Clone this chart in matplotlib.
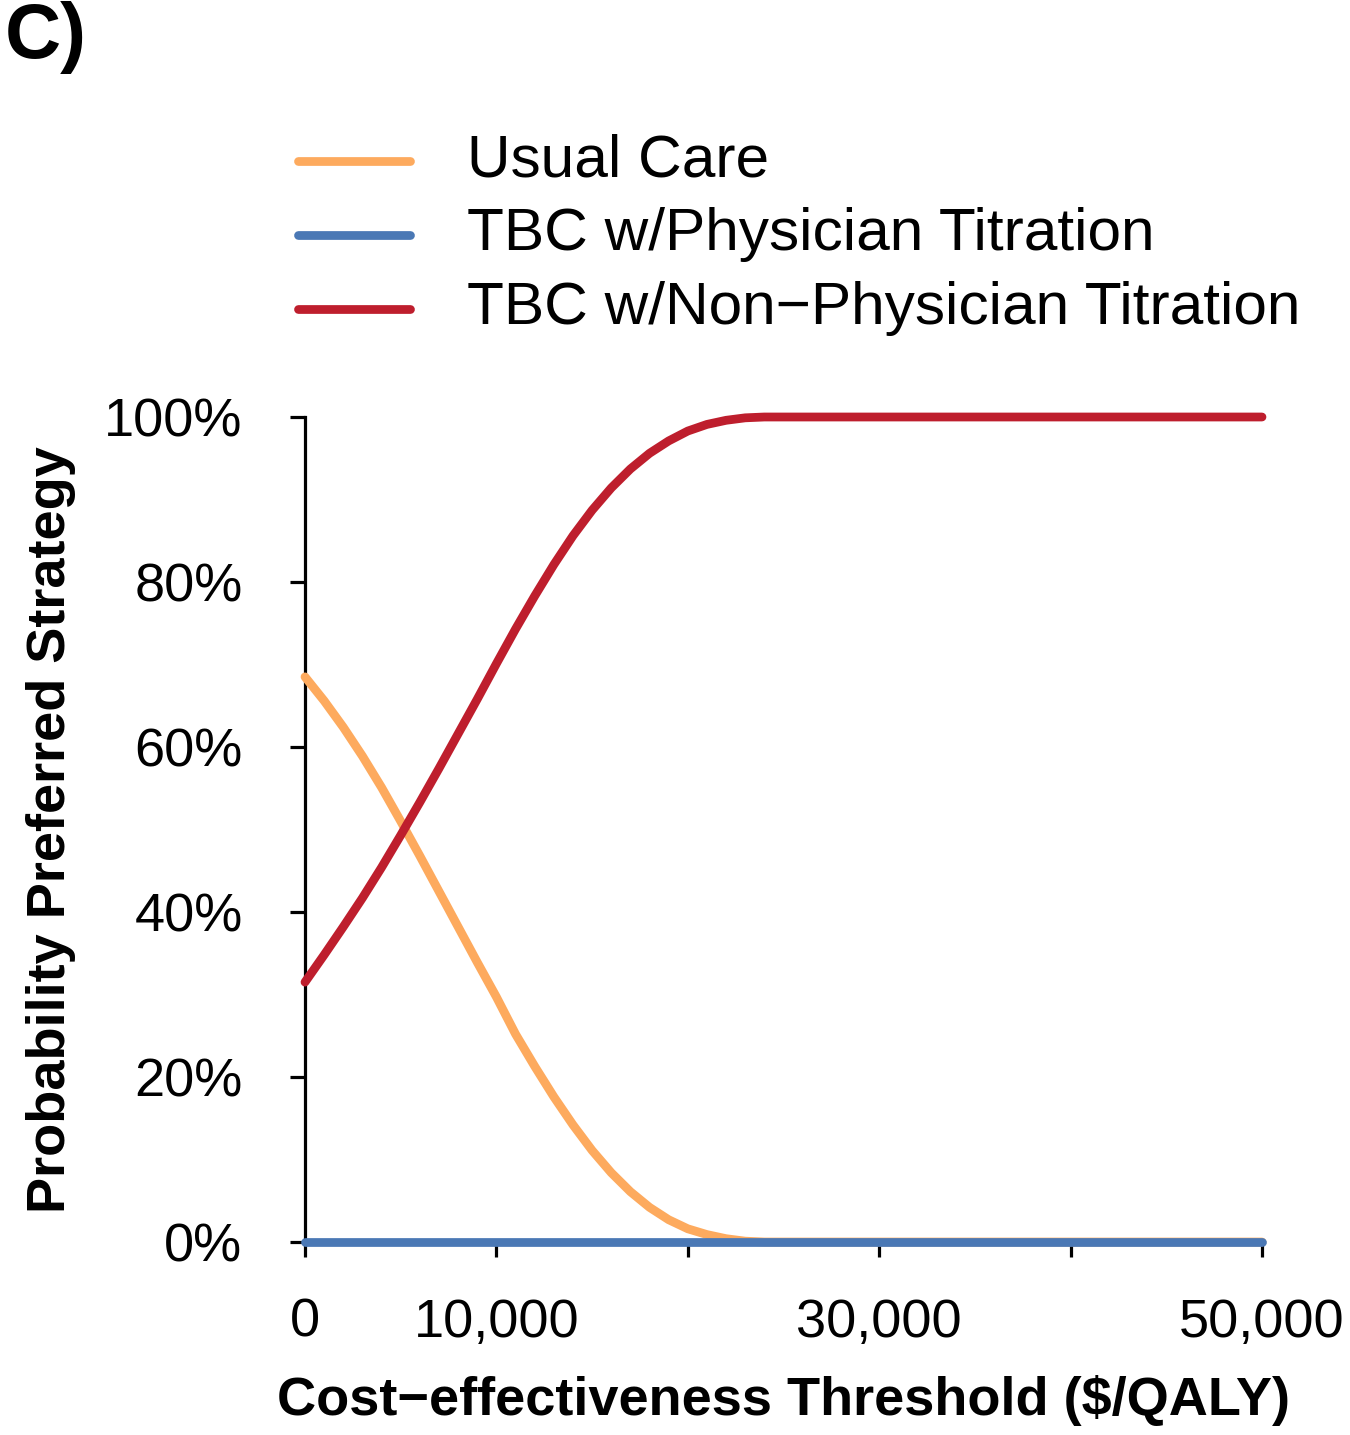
import matplotlib
matplotlib.use("Agg")
import matplotlib.pyplot as plt
import numpy as np

plt.rcParams['font.family'] = ['Liberation Sans', 'DejaVu Sans']

# threshold ($/QALY)
thresholds = [0, 1000, 2000, 3000, 4000, 5000, 6000, 7000, 8000, 9000, 10000,
              11000, 12000, 13000, 14000, 15000, 16000, 17000, 18000, 19000, 20000,
              21000, 22000, 23000, 24000, 30000, 40000, 50000]
# probability preferred (%)
usual_care = [68.5, 65.6, 62.4, 58.9, 55.1, 51.0, 46.8, 42.5, 38.2, 33.9, 29.7,
              25.2, 21.3, 17.6, 14.2, 11.1, 8.4, 6.1, 4.2, 2.7, 1.6,
              0.9, 0.4, 0.1, 0.0, 0.0, 0.0, 0.0]
tbc_physician = [0.0] * len(thresholds)
tbc_non_physician = [31.5, 34.8, 38.2, 41.7, 45.4, 49.3, 53.3, 57.4, 61.6, 65.8, 70.1,
                     74.3, 78.3, 82.1, 85.6, 88.7, 91.4, 93.7, 95.6, 97.1, 98.3,
                     99.1, 99.6, 99.9, 100.0, 100.0, 100.0, 100.0]

series = ['Usual Care', 'TBC w/Physician Titration', 'TBC w/Non\u2212Physician Titration']
colors = ['#FDAA5E', '#4A78B5', '#BE1E2D']

fig = plt.figure(figsize=(13.5, 14.35), dpi=100)
ax = fig.add_axes([305 / 1350, 1 - 1242 / 1435, 957 / 1350, 825 / 1435])

lw = 6.3
for vals, col in zip([usual_care, tbc_physician, tbc_non_physician], colors):
    ax.plot(thresholds, vals, color=col, lw=lw, clip_on=False,
            solid_capstyle='round', solid_joinstyle='round', zorder=3)

ax.set_xlim(0, 50000)
ax.set_ylim(0, 100)
for s in ['top', 'right']:
    ax.spines[s].set_visible(False)
for s in ['left', 'bottom']:
    ax.spines[s].set_linewidth(2.3)

ax.set_xticks([0, 10000, 20000, 30000, 40000, 50000])
ax.set_xticklabels(['0', '10,000', '', '30,000', '', '50,000'])
ax.set_yticks([0, 20, 40, 60, 80, 100])
ax.set_yticklabels(['0%', '20%', '40%', '60%', '80%', '100%'])
ax.tick_params(axis='both', direction='out', length=11, width=2.3, labelsize=39)
ax.tick_params(axis='x', pad=29)
ax.tick_params(axis='y', pad=34)

ax.set_xlabel('Cost\u2212effectiveness Threshold ($/QALY)', fontsize=39,
              fontweight='bold', labelpad=20)
ax.set_ylabel('Probability Preferred Strategy', fontsize=39,
              fontweight='bold', labelpad=20)

# legend drawn in figure pixel coords
for i, (name, col) in enumerate(zip(series, colors)):
    y = 1 - (161 + 74 * i) / 1435
    fig.add_artist(plt.Line2D([298 / 1350, 410 / 1350], [y, y], color=col,
                              lw=lw, solid_capstyle='round'))
    fig.text(467 / 1350, y, name, fontsize=43.5, va='center', ha='left')

fig.text(5 / 1350, 1 - 38 / 1435, 'C)', fontsize=56, fontweight='bold',
         va='center', ha='left')

fig.savefig('out.png', dpi=100)
